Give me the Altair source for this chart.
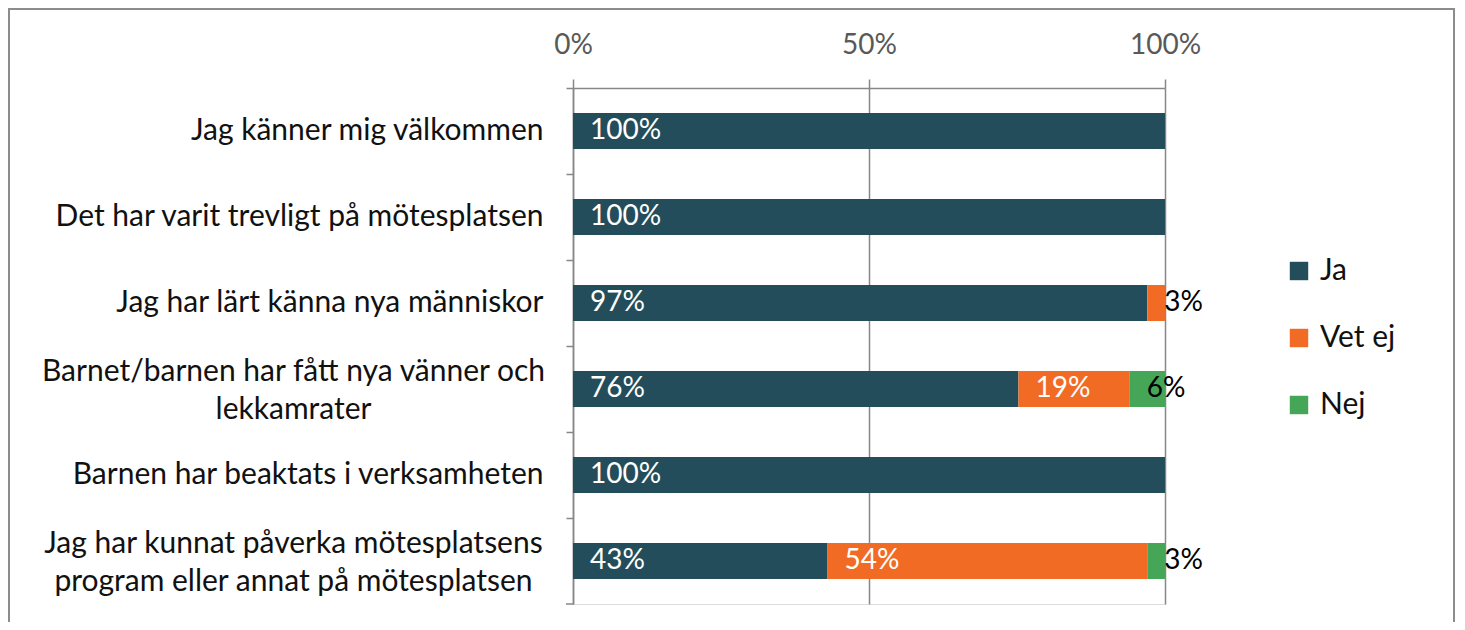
import altair as alt
import pandas as pd

questions = [
    "Jag känner mig välkommen",
    "Det har varit trevligt på mötesplatsen",
    "Jag har lärt känna nya människor",
    "Barnet/barnen har fått nya vänner och|lekkamrater",
    "Barnen har beaktats i verksamheten",
    "Jag har kunnat påverka mötesplatsens|program eller annat på mötesplatsen",
]
responses = ["Ja", "Vet ej", "Nej"]
ja = [100, 100, 97, 76, 100, 43]
vet_ej = [0, 0, 3, 19, 0, 54]
nej = [0, 0, 0, 6, 0, 3]
colors = ["#244D5B", "#F26B24", "#45A657"]

rows = []
for i, q in enumerate(questions):
    for j, (r, vals) in enumerate(zip(responses, [ja, vet_ej, nej])):
        v = vals[i]
        if v > 0:
            rows.append({"q": q, "resp": r, "val": v, "order": j,
                         "label": f"{v}%", "dark": v >= 10})
df = pd.DataFrame(rows)

W, H = 592, 516
FONT = "Lato"
FS = 28
LFS = 30

base = alt.Chart(df).transform_stack(
    stack="val", groupby=["q"], as_=["start", "end"], offset="normalize",
    sort=[alt.SortField("order")]
)

multi_test = "indexof(datum.label, '|') >= 0"
yenc = alt.Y("q:N", sort=questions, scale=alt.Scale(paddingInner=0, paddingOuter=0),
             title=None,
             axis=alt.Axis(orient="left", bandPosition=0, tickSize=7, tickColor="#878787",
                           tickWidth=1.5, domainColor="#878787", domainWidth=1.5,
                           labelFontSize=LFS, labelColor="#111111",
                           labelAlign={"condition": {"test": multi_test, "value": "center"}, "value": "right"},
                           labelPadding={"condition": {"test": multi_test, "value": 273}, "value": 23},
                           labelOffset={"condition": {"test": multi_test, "value": -17}, "value": 0},
                           labelExpr="split(datum.label, '|')", labelLineHeight=38,
                           grid=False, labelFont=FONT, labelLimit=700))

xenc = alt.X("start:Q", scale=alt.Scale(domain=[0, 1], nice=False), title=None,
             axis=alt.Axis(orient="top", format="%", values=[0, 0.5, 1], tickSize=9,
                           tickColor="#878787", tickWidth=1.5, domainColor="#878787",
                           domainWidth=1.5, gridColor="#878787", gridWidth=1.5,
                           labelFontSize=FS, labelColor="#595959", labelPadding=20,
                           labelFlush=False, labelFont=FONT))

bars = base.mark_bar(size=36).encode(
    x=xenc,
    x2="end:Q",
    y=yenc,
    color=alt.Color("resp:N", scale=alt.Scale(domain=responses, range=colors),
                    legend=alt.Legend(orient="none", legendX=711, legendY=168, title=None,
                                      symbolType="square", symbolSize=340,
                                      symbolStrokeWidth=0, labelFontSize=LFS,
                                      labelColor="#111111", rowPadding=37,
                                      labelFont=FONT, labelOffset=6)),
    order=alt.Order("order:Q"),
)

texts = base.mark_text(align="left", baseline="middle", dx=17, fontSize=FS, font=FONT).encode(
    x=xenc,
    y=yenc,
    text="label:N",
    color=alt.condition("datum.dark", alt.value("white"), alt.value("black")),
)

bottom_tick = alt.Chart(pd.DataFrame({"a": [0]})).mark_rule(color="#878787", strokeWidth=1.5).encode(
    x=alt.value(-7), x2=alt.value(0), y=alt.value(H)
)

frame = alt.Chart(pd.DataFrame({"a": [0]})).mark_rect(
    fill=None, stroke="#8c8c8c", strokeWidth=2, clip=False
).encode(x=alt.value(-564), x2=alt.value(881), y=alt.value(-79), y2=alt.value(560))

chart = alt.layer(bars, texts, bottom_tick, frame).properties(
    width=W, height=H,
    autosize=alt.AutoSizeParams(type="none"),
    padding={"left": 565, "top": 80, "right": 290, "bottom": 18},
).configure_view(stroke=None).configure(font=FONT)

chart.save("out.html", embed_options={"renderer": "svg", "actions": False})
